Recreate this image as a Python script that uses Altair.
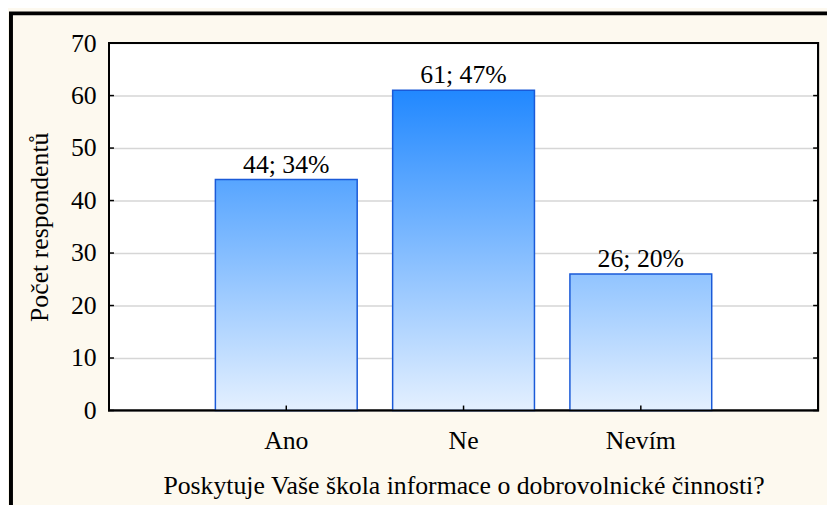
import altair as alt
import pandas as pd

# ---- data ----
categories = ["Ano", "Ne", "Nevím"]
counts = [44, 61, 26]
percents = [34, 47, 20]
y_ticks = [0, 10, 20, 30, 40, 50, 60, 70]

labels = [f"{c}; {p}%" for c, p in zip(counts, percents)]
df = pd.DataFrame({"cat": categories, "count": counts, "label": labels})
ticks_df = pd.DataFrame({"v": y_ticks})

W, H = 716, 371
FONT = "Liberation Serif, Times New Roman, serif"
FS = 26

bottom_rgb = (228, 240, 255)
top_rgb = (30, 134, 255)
ref_max = 62.0


def mix(t):
    r = [round(b + (tp - b) * t) for b, tp in zip(bottom_rgb, top_rgb)]
    return "#%02x%02x%02x" % tuple(r)


x_scale = alt.Scale(domain=categories, paddingInner=0.2, paddingOuter=0.6)
y_scale = alt.Scale(domain=[0, 70], nice=False, zero=True)

x_enc = alt.X(
    "cat:N",
    sort=categories,
    scale=x_scale,
    axis=alt.Axis(
        title="Poskytuje Vaše škola informace o dobrovolnické činnosti?",
        labelFont=FONT, labelFontSize=FS, labelColor="black",
        titleFont=FONT, titleFontSize=FS, titleFontWeight="normal", titleColor="black",
        labelPadding=17, titlePadding=20, ticks=False, tickSize=0, domain=False,
        labelAngle=0, grid=False,
    ),
)
y_enc = alt.Y(
    "count:Q",
    scale=y_scale,
    axis=alt.Axis(
        title="Počet respondentů",
        values=y_ticks,
        labelFont=FONT, labelFontSize=FS, labelColor="black",
        titleFont=FONT, titleFontSize=FS, titleFontWeight="normal", titleColor="black",
        labelPadding=13, titlePadding=18, ticks=False, tickSize=0, domain=False,
        grid=True, gridColor="#d6d6d6", gridWidth=1.5,
    ),
)

base = alt.Chart(df)

layers = []
for c, v in zip(categories, counts):
    grad = alt.Gradient(
        gradient="linear",
        x1=0, x2=0, y1=1, y2=0,
        stops=[
            alt.GradientStop(offset=0, color=mix(0.0)),
            alt.GradientStop(offset=1, color=mix(min(v / ref_max, 1.0))),
        ],
    )
    layers.append(
        base.transform_filter(alt.datum.cat == c)
        .mark_bar(fill=grad, stroke="#1a5ad8", strokeWidth=1.5)
        .encode(x=x_enc, y=y_enc)
    )

# inward ticks
ytick_left = alt.Chart(ticks_df).mark_rule(color="black", strokeWidth=1.5).encode(
    y=alt.Y("v:Q", scale=y_scale), x=alt.value(0), x2=alt.value(5)
)
ytick_right = alt.Chart(ticks_df).mark_rule(color="black", strokeWidth=1.5).encode(
    y=alt.Y("v:Q", scale=y_scale), x=alt.value(W - 5), x2=alt.value(W)
)
xtick = base.mark_rule(color="black", strokeWidth=1.5).encode(
    x=alt.X("cat:N", sort=categories, scale=x_scale), y=alt.value(H), y2=alt.value(H - 5)
)

# plot frame drawn above bars
box = alt.Chart(pd.DataFrame({"a": [0]})).mark_rect(
    fill=None, stroke="black", strokeWidth=2
).encode(x=alt.value(0), x2=alt.value(W), y=alt.value(0), y2=alt.value(H))

text = base.mark_text(
    font=FONT, fontSize=FS, color="black", baseline="alphabetic", dy=-7
).encode(x=alt.X("cat:N", sort=categories, scale=x_scale), y=alt.Y("count:Q", scale=y_scale), text="label:N")

frame = alt.Chart(pd.DataFrame({"a": [0]})).mark_rect(
    fill=None, stroke="black", strokeWidth=4
).encode(x=alt.value(-99), x2=alt.value(900), y=alt.value(-30), y2=alt.value(700))

chart = (
    alt.layer(frame, *layers, box, ytick_left, ytick_right, xtick, text)
    .properties(
        width=W,
        height=H,
        autosize=alt.AutoSizeParams(type="none"),
        padding={"left": 102, "top": 33, "right": 9, "bottom": 93},
        background="#fdf9ef",
    )
    .configure(font=FONT)
    .configure_view(stroke="black", strokeWidth=2, fill="white")
)

chart.save("out.html", embed_options={"renderer": "svg", "actions": False})
